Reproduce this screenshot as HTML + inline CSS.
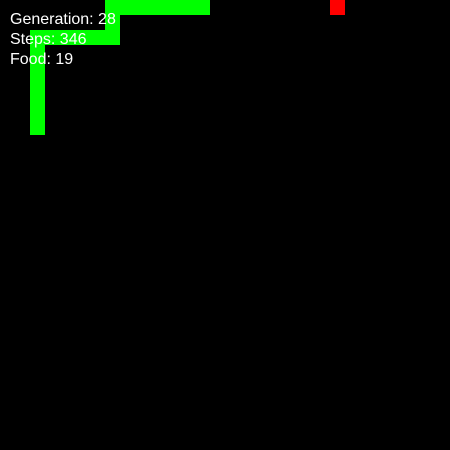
<!DOCTYPE html>
<html><head><meta charset="utf-8"><style>
html,body{margin:0;padding:0;background:#000;}
#game{position:relative;width:450px;height:450px;background:#000;overflow:hidden;}
.cell{position:absolute;width:15px;height:15px;}
.txt{position:absolute;left:10px;color:#fff;font:16px "Liberation Sans",sans-serif;white-space:nowrap;line-height:18px;}
</style></head><body>
<div id="game">
</div>
<script>
const CELL = 15;
const snakeX = [13,12,11,10,9,8,7,7,7,6,5,4,3,2,2,2,2,2,2,2,2];
const snakeY = [0,0,0,0,0,0,0,1,2,2,2,2,2,2,3,4,5,6,7,8,2];
const foodX = [22];
const foodY = [0];
const labels = ["Generation: 28","Steps: 346","Food: 19"];
const labelTop = [11,31,51];
const game = document.getElementById('game');
for (let i = 0; i < snakeX.length; i++) {
  const d = document.createElement('div');
  d.className = 'cell';
  d.style.left = (snakeX[i]*CELL)+'px';
  d.style.top = (snakeY[i]*CELL)+'px';
  d.style.background = '#00ff00';
  
  
  game.appendChild(d);
}
for (let i = 0; i < foodX.length; i++) {
  const f = document.createElement('div');
  f.className = 'cell';
  f.style.left = (foodX[i]*CELL)+'px';
  f.style.top = (foodY[i]*CELL)+'px';
  f.style.background = '#ff0000';
  
  
  game.appendChild(f);
}
for (let i = 0; i < labels.length; i++) {
  const t = document.createElement('div');
  t.className = 'txt';
  t.style.top = labelTop[i]+'px';
  t.textContent = labels[i];
  
  
  game.appendChild(t);
}
</script>
</body></html>
